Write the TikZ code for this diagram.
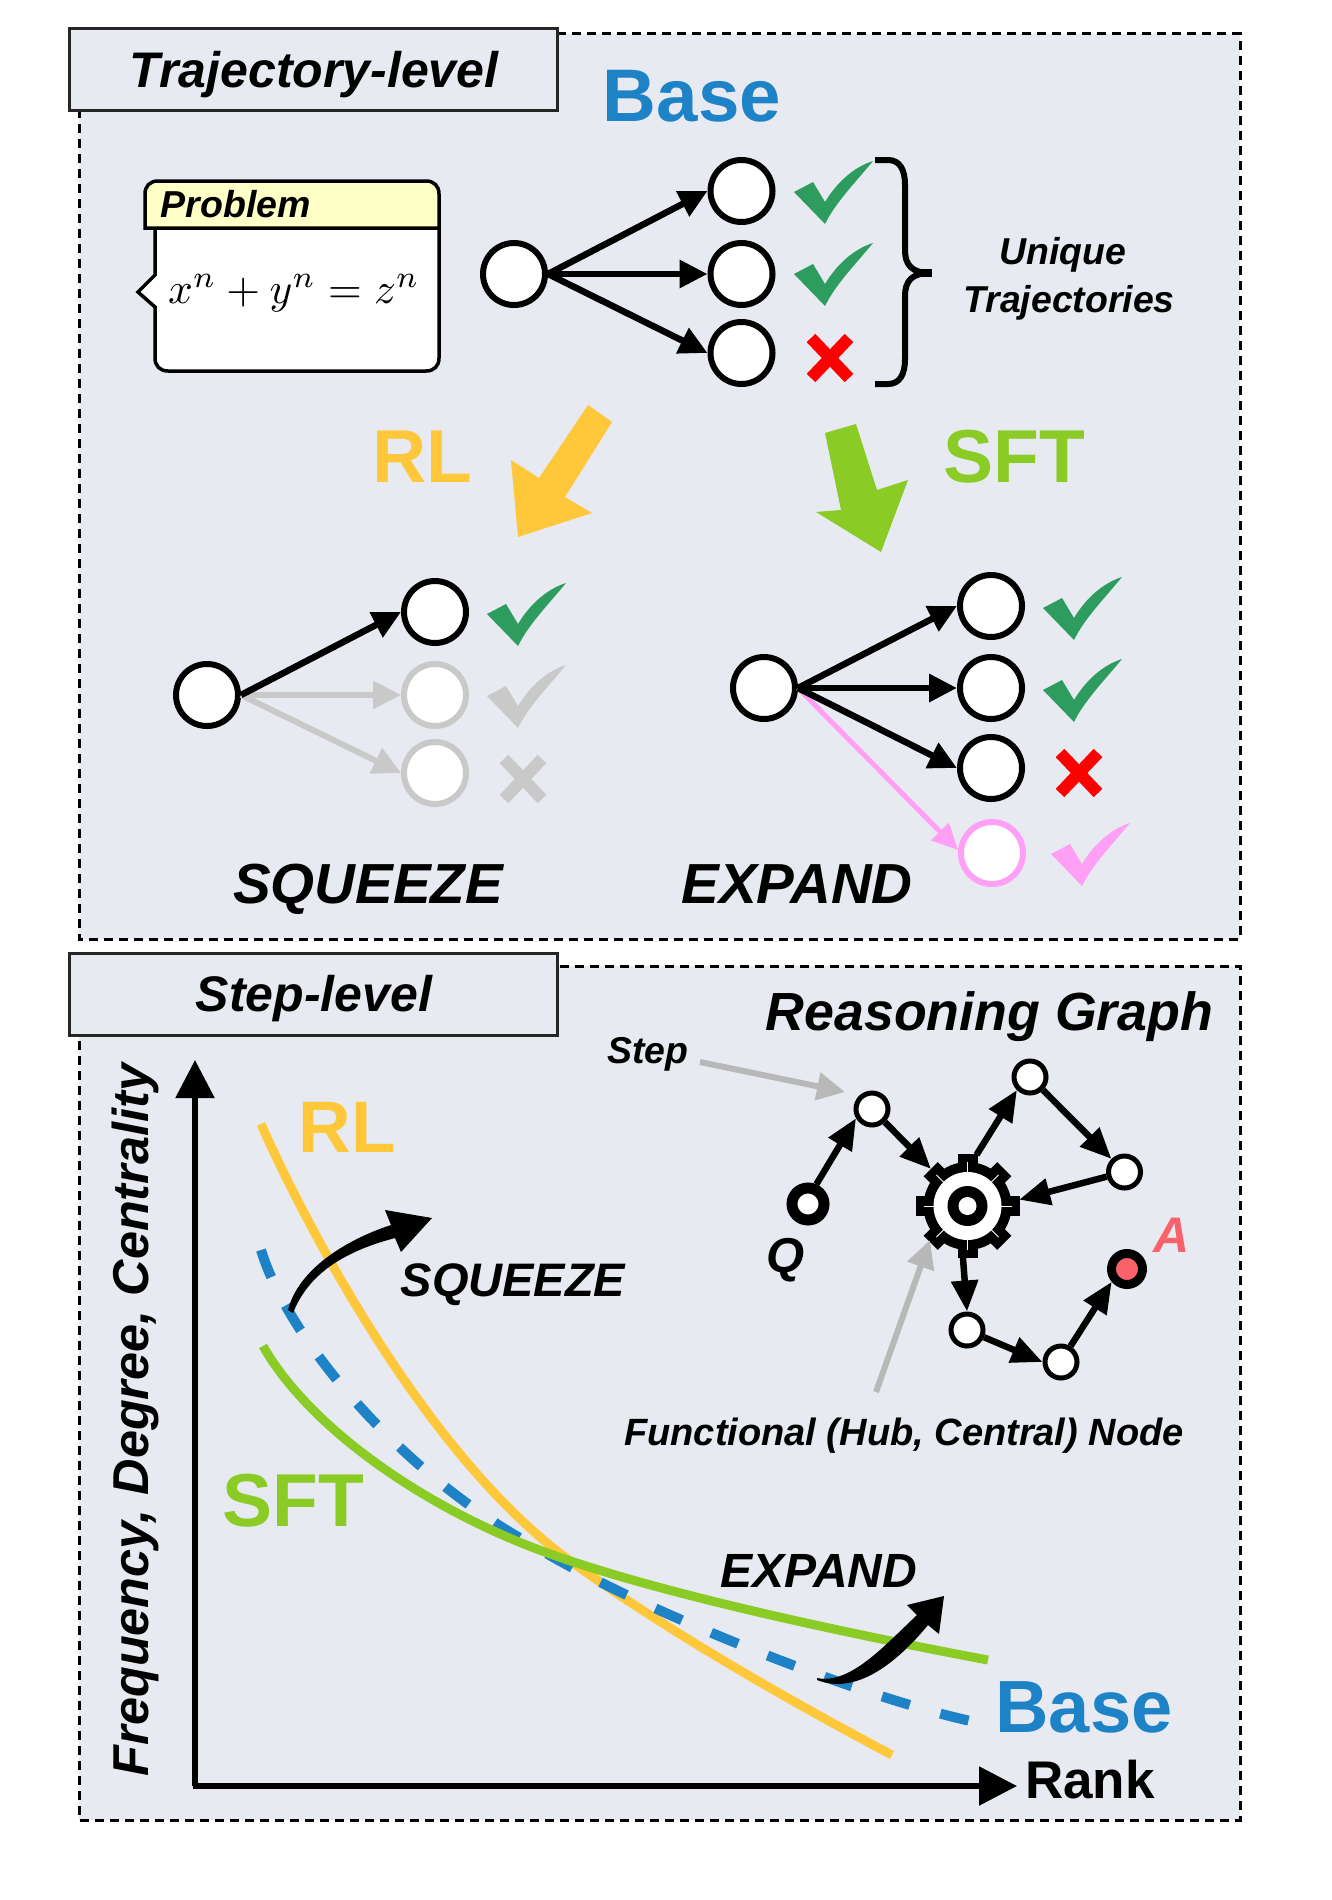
\documentclass[tikz,border=0pt]{standalone}
\usepackage{fontspec}
\setmainfont{Liberation Sans}
\usetikzlibrary{arrows.meta}
\definecolor{panelbg}{HTML}{E8EAF2}
\definecolor{cblue}{HTML}{1E82C6}
\definecolor{cyellow}{HTML}{FFC83A}
\definecolor{cgreen}{HTML}{8ACB25}
\definecolor{cchk}{HTML}{2E9B5F}
\definecolor{cpink}{HTML}{FF9FF5}
\definecolor{cgray}{HTML}{C9C9C9}
\definecolor{cgraydk}{HTML}{B8B8B8}
\definecolor{chead}{HTML}{FFFFC8}
\definecolor{cans}{HTML}{F9616B}
\newcommand\pxf[1]{\fontsize{#1}{#1}\selectfont}
\newcommand\chkmark[3]{\fill[#3,shift={(#1,#2)}] (-40,0) -- (-21,-10) -- (-9,10) .. controls (3,-10) and (20,-25) .. (39,-31) .. controls (20,-8) and (2,10) .. (-9,32) -- cycle;}
\newcommand\crossmark[3]{\draw[#3,line width=12pt,shift={(#1,#2)}] (-19,-20) -- (19,20) (19,-20) -- (-19,20);}
\tikzset{
  x=1pt,y=-1pt,
  panel/.style={draw=black,fill=panelbg,line width=3pt,dash pattern=on 9pt off 6pt},
  titlebox/.style={draw=black!85,fill=panelbg,line width=3pt},
  tnode/.style={circle,draw=black,fill=white,line width=6pt,minimum size=62pt,inner sep=0pt},
  tgray/.style={tnode,draw=cgray},
  tpink/.style={tnode,draw=cpink},
  snode/.style={circle,draw=black,fill=white,line width=5pt,minimum size=32pt,inner sep=0pt},
  qnode/.style={circle,draw=black,fill=white,line width=11pt,minimum size=32pt,inner sep=0pt},
  anode/.style={circle,draw=black,fill=cans,line width=9pt,minimum size=31pt,inner sep=0pt},
  tarrow/.style={line width=6.5pt,-{Triangle[length=28pt,width=27pt]}},
  grayarrow/.style={line width=6pt,draw=cgray,-{Triangle[length=28pt,width=27pt]}},
  pinkarrow/.style={line width=5pt,draw=cpink,-{Triangle[length=26pt,width=24pt]}},
  sarrow/.style={line width=6.5pt,-{Triangle[length=31pt,width=26pt]}},
  notearrow/.style={line width=6pt,draw=cgraydk,-{Triangle[length=28pt,width=27pt]}},
  axis/.style={line width=5.5pt,-{Triangle[length=38pt,width=38pt]}},
  lab/.style={anchor=base,inner sep=0pt,font=\bfseries},
  labi/.style={anchor=base,inner sep=0pt,font=\bfseries\itshape},
}
\begin{document}
\begin{tikzpicture}
\useasboundingbox[fill=white] (0,0) rectangle (1332,1900);
% panels
\draw[panel] (79,34) rectangle (1240,939);
\draw[panel] (79,966) rectangle (1240,1820);
\node[titlebox,minimum width=488pt,minimum height=82pt,inner sep=0pt] (t1box) at (313,70) {};
\node[titlebox,minimum width=488pt,minimum height=82pt,inner sep=0pt] (t2box) at (313,994) {};
\node[labi] (t1) at (314,88) {\pxf{50}Trajectory-level};
\node[labi] (t2) at (314,1011) {\pxf{50}Step-level};
\node[lab,text=cblue] (base1) at (692,122) {\pxf{74.5}Base};
% problem box
\draw[fill=white,line width=3.5pt,line join=miter] (155,228) -- (155,275) -- (138,292) -- (155,307) -- (155,358) .. controls (155,366) and (160,371) .. (168,371) -- (426,371) .. controls (434,371) and (439,366) .. (439,358) -- (439,228) -- cycle;
\draw[fill=chead,line width=3.5pt] (145,228) -- (145,194) .. controls (145,186) and (150,181) .. (158,181) -- (426,181) .. controls (434,181) and (439,186) .. (439,194) -- (439,228) -- cycle;
\node[labi] (probt) at (236,217) {\pxf{37.5}Problem};
\node[anchor=base,inner sep=0pt] (probm) at (294,303) {\scalebox{4.34}{$x^n+y^n=z^n$}};
% base tree
\node[tnode] (b0) at (514,274) {};
\node[tnode] (b1) at (741.5,191) {};
\node[tnode] (b2) at (741.5,274) {};
\node[tnode] (b3) at (741.5,353) {};
\draw[tarrow] (b0.east) -- (b1.west);
\draw[tarrow] (b0.east) -- (b2.west);
\draw[tarrow] (b0.east) -- (b3.west);
\chkmark{834}{192}{cchk}
\chkmark{834}{274}{cchk}
\crossmark{830}{358}{red}
\draw[line width=6pt] (875,160) -- (888,160) .. controls (900,160) and (905,170) .. (905,185) -- (905,250) .. controls (905,265) and (912,273) .. (930,273);
\draw[line width=6pt] (875,384) -- (888,384) .. controls (900,384) and (905,374) .. (905,359) -- (905,296) .. controls (905,281) and (912,273) .. (930,273);
\draw[line width=8pt] (916,273) -- (932,273);
\node[labi] (u1) at (1063,264) {\pxf{37.4}Unique};
\node[labi] (u2) at (1069,312) {\pxf{37.4}Trajectories};
% big arrows
\fill[cyellow] (588,405) -- (612,422) -- (565,497) -- (592,513) -- (518,537) -- (511,460) -- (539,478) -- cycle;
\fill[cgreen] (856,424) -- (825,433) -- (841,510) -- (816,512) -- (881,552) -- (908,480) -- (877,490) -- cycle;
\node[lab,text=cyellow] (rl1) at (422,482) {\pxf{75}RL};
\node[lab,text=cgreen] (sft1) at (1014,482) {\pxf{75}SFT};
% squeeze tree
\node[tnode] (s0) at (207,695) {};
\node[tnode] (s1) at (435,612) {};
\node[tgray] (s2) at (435,695) {};
\node[tgray] (s3) at (435,773) {};
\draw[grayarrow] (s0.east) -- (s2.west);
\draw[grayarrow] (s0.east) -- (s3.west);
\draw[tarrow] (s0.east) -- (s1.west);
\chkmark{527}{614}{cchk}
\chkmark{527}{696}{cgray}
\crossmark{523}{779}{cgray}
% expand tree
\node[tnode] (e0) at (764,688) {};
\node[tnode] (e1) at (991,606) {};
\node[tnode] (e2) at (991,688) {};
\node[tnode] (e3) at (991,768) {};
\node[tpink] (e4) at (992,853) {};
\draw[pinkarrow] (e0.east) -- (e4.175);
\draw[tarrow] (e0.east) -- (e1.west);
\draw[tarrow] (e0.east) -- (e2.west);
\draw[tarrow] (e0.east) -- (e3.west);
\chkmark{1083}{608}{cchk}
\chkmark{1083}{690}{cchk}
\crossmark{1079}{773}{red}
\chkmark{1091}{854}{cpink}
\node[labi] (sq1) at (368,903) {\pxf{56.5}SQUEEZE};
\node[labi] (ex1) at (797,903) {\pxf{56.5}EXPAND};
% step-level: curves
\draw[cyellow,line width=9pt] (261,1124) .. controls (290,1190) and (415,1450) .. (573,1563) .. controls (673,1634.5) and (792,1702) .. (892,1755);
\draw[cblue,line width=10pt,dash pattern=on 29pt off 31.8pt] (261,1250) .. controls (290,1345) and (410,1480) .. (536,1547) .. controls (630,1605) and (850,1695) .. (975,1722);
\draw[cgreen,line width=9pt] (263,1346) .. controls (305,1420) and (405,1495) .. (519,1542) .. controls (633,1589) and (850,1634) .. (988,1660);
\draw[axis] (195,1786) -- (195,1060);
\draw[axis] (193,1786) -- (1017,1786);
\node[labi,rotate=90] (ylab) at (148,1420) {\pxf{50.4}Frequency, Degree, Centrality};
\node[lab] (rank) at (1090,1798) {\pxf{53}Rank};
\node[lab,text=cblue] (base2) at (1084,1732) {\pxf{74}Base};
\node[lab,text=cyellow] (rl2) at (347,1152) {\pxf{73}RL};
\node[lab,text=cgreen] (sft2) at (293,1526) {\pxf{75}SFT};
\node[labi] (sq2) at (513,1296) {\pxf{47}SQUEEZE};
\node[labi] (ex2) at (819,1587) {\pxf{48}EXPAND};
% tapered curved arrows
\fill (288,1310) .. controls (298,1270) and (345,1240) .. (391,1225) -- (385,1210) -- (432,1218) -- (401,1252) -- (395,1238) .. controls (350,1250) and (310,1270) .. (293,1313) -- cycle;
\fill (817,1678) .. controls (850,1685) and (885,1645) .. (917,1615) -- (907,1605) -- (944,1596) -- (939,1634) -- (928,1625) .. controls (895,1665) and (855,1695) .. (817,1680) -- cycle;
% reasoning graph
\node[labi] (rg) at (989.5,1030) {\pxf{53.7}Reasoning Graph};
\node[labi] (stept) at (648,1063) {\pxf{37.4}Step};
\node[labi] (funct) at (904,1445) {\pxf{38}Functional (Hub, Central) Node};
\node[labi] (qt) at (786,1272) {\pxf{49}Q};
\node[labi,text=cans] (at) at (1172,1252) {\pxf{50}A};
\coordinate (stepfrom) at (700,1062);
\coordinate (stepto) at (845,1092);
\coordinate (funcfrom) at (876,1392);
\coordinate (functo) at (930,1240);
\node[snode] (n1) at (872,1109) {};
\node[snode] (n2) at (1030,1077) {};
\node[snode] (n3) at (1124.5,1172) {};
\node[snode] (n4) at (967,1330) {};
\node[snode] (n5) at (1061,1362) {};
\node[qnode] (nq) at (808,1204) {};
\node[anode] (na) at (1127,1269) {};
% gear
\node[circle,minimum size=104pt,inner sep=0pt,outer sep=0pt] (gear) at (967.5,1206) {};
\foreach \a in {0,45,...,315}{
  \fill[shift={(967.5,1206)},rotate=\a] (-10,-52) rectangle (10,-34);
}
\fill (967.5,1206) circle[radius=44pt];
\fill[white] (967.5,1206) circle[radius=34pt];
\fill (967.5,1206) circle[radius=20pt];
\fill[white] (967.5,1206) circle[radius=9pt];
\foreach \a in {0,45,...,315}{
  \draw[white,line width=1pt,shift={(967.5,1206)},rotate=\a] (0,-33) -- (0,-44);
}
\draw[sarrow] (nq.67) -- (n1.210);
\draw[sarrow] (n1) -- (gear);
\draw[sarrow] (gear.80) -- (n2.225);
\draw[sarrow] (n2) -- (n3);
\draw[sarrow] (n3) -- (gear.7);
\draw[sarrow] (gear.265) -- (n4.north);
\draw[sarrow] (n4) -- (n5.west);
\draw[sarrow] (n5.59) -- (na.220);
\draw[notearrow] (stepfrom) -- (stepto);
\draw[notearrow] (funcfrom) -- (functo);
\end{tikzpicture}
\end{document}
